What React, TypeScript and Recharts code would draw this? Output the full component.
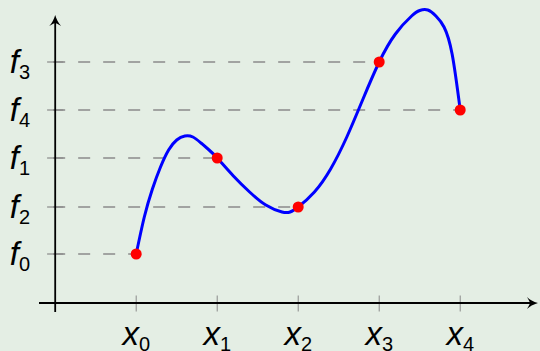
import React from 'react';
import {
  ComposedChart, Line, Scatter, XAxis, YAxis, ReferenceLine, ReferenceDot,
} from 'recharts';

// interpolation nodes x0..x4 and their values f0..f4
const nodeX = [1, 2, 3, 4, 5];
const nodeF = [4.9, 14.5, 9.6, 24.1, 19.3];
const nodeNames = ['0', '1', '2', '3', '4'];

// points
const curveX = [
  1.0, 1.1, 1.2, 1.3, 1.4, 1.5, 1.6, 1.7, 1.8, 1.9,
  2.0, 2.2, 2.4, 2.6, 2.8, 2.9,
  3.0, 3.2, 3.4, 3.6, 3.8,
  4.0, 4.2, 4.4, 4.5, 4.6, 4.7, 4.8, 4.9, 5.0,
];
const curveY = [
  4.9, 8.6, 11.4, 13.6, 15.3, 16.3, 16.7, 16.6, 16.0, 15.3,
  14.5, 12.7, 11.1, 9.8, 9.1, 9.1,
  9.6, 11.1, 13.4, 16.6, 20.4,
  24.1, 26.9, 28.7, 29.25, 29.3, 28.7, 27.6, 24.9, 19.3,
];

const curve = curveX.map((x, i) => ({ x, y: curveY[i] }));
const nodes = nodeX.map((x, i) => ({ x, y: nodeF[i] }));

const FONT = '"Liberation Sans", Arial, sans-serif';

const XTick = ({ x, payload }: any) => {
  const i = nodeX.indexOf(payload.value);
  return (
    <text x={x} y={345} textAnchor="middle" fontFamily={FONT} fill="#000">
      <tspan fontStyle="italic" fontSize={33}>x</tspan>
      <tspan fontSize={20} dy={6}>{nodeNames[i]}</tspan>
    </text>
  );
};

const YTick = ({ y, payload }: any) => {
  const i = nodeF.indexOf(payload.value);
  return (
    <text x={30} y={y + 11} textAnchor="end" fontFamily={FONT} fill="#000">
      <tspan fontStyle="italic" fontSize={33}>f</tspan>
      <tspan fontSize={20} dy={6}>{nodeNames[i]}</tspan>
    </text>
  );
};

const ArrowUp = ({ cx, cy }: any) => (
  <path
    d={`M${cx},${cy} Q${cx + 2},${cy + 7} ${cx + 6},${cy + 11} Q${cx + 1},${cy + 8} ${cx},${cy + 8} Q${cx - 1},${cy + 8} ${cx - 6},${cy + 11} Q${cx - 2},${cy + 7} ${cx},${cy} Z`}
    fill="#000"
  />
);

const ArrowRight = ({ cx, cy }: any) => (
  <path
    d={`M${cx},${cy} Q${cx - 7},${cy - 2} ${cx - 11},${cy - 6} Q${cx - 8},${cy - 1} ${cx - 8},${cy} Q${cx - 8},${cy + 1} ${cx - 11},${cy + 6} Q${cx - 7},${cy + 2} ${cx},${cy} Z`}
    fill="#000"
  />
);

const Dot = ({ cx, cy }: any) => <circle cx={cx} cy={cy} r={5.5} fill="#ff0000" />;

export default function App() {
  return (
    <div style={{ position: 'absolute', left: 0, top: 0, width: 540, height: 351, background: '#e4eee4' }}>
      <ComposedChart width={540} height={351} margin={{ top: 3, right: 0, bottom: 0, left: 0 }}>
        <XAxis
          type="number"
          dataKey="x"
          domain={[-0.2, 5.985]}
          ticks={nodeX}
          interval={0}
          height={38}
          axisLine={false}
          tickLine={false}
          tick={<XTick />}
          allowDataOverflow
        />
        <YAxis
          type="number"
          dataKey="y"
          domain={[-1, 30]}
          ticks={nodeF}
          interval={0}
          width={39}
          axisLine={false}
          tickLine={false}
          tick={<YTick />}
          allowDataOverflow
        />
        {nodes.map((p) => (
          <ReferenceLine
            key={'d' + p.x}
            segment={[{ x: -0.025, y: p.y }, { x: p.x, y: p.y }]}
            stroke="#8a8a8a"
            strokeWidth={1.7}
            strokeDasharray="12 13"
            ifOverflow="visible"
          />
        ))}
        {nodes.map((p) => (
          <ReferenceLine
            key={'yt' + p.x}
            segment={[{ x: -0.1, y: p.y }, { x: 0.1, y: p.y }]}
            stroke="#8a8a8a"
            strokeWidth={1.2}
            ifOverflow="visible"
          />
        ))}
        {nodes.map((p) => (
          <ReferenceLine
            key={'xt' + p.x}
            segment={[{ x: p.x, y: -0.85 }, { x: p.x, y: 0.75 }]}
            stroke="#8a8a8a"
            strokeWidth={1}
            ifOverflow="visible"
          />
        ))}
        <ReferenceLine segment={[{ x: -0.2, y: 0 }, { x: 5.9, y: 0 }]} stroke="#000" strokeWidth={1.8} ifOverflow="visible" />
        <ReferenceLine segment={[{ x: 0, y: -0.9 }, { x: 0, y: 28.2 }]} stroke="#000" strokeWidth={1.8} ifOverflow="visible" />
        <ReferenceDot x={0} y={28.8} shape={<ArrowUp />} ifOverflow="visible" />
        <ReferenceDot x={5.96} y={0} shape={<ArrowRight />} ifOverflow="visible" />
        <Line
          data={curve}
          dataKey="y"
          type="natural"
          stroke="#0000ff"
          strokeWidth={3}
          dot={false}
          activeDot={false}
          isAnimationActive={false}
        />
        <Scatter data={nodes} dataKey="y" shape={<Dot />} isAnimationActive={false} />
      </ComposedChart>
    </div>
  );
}
